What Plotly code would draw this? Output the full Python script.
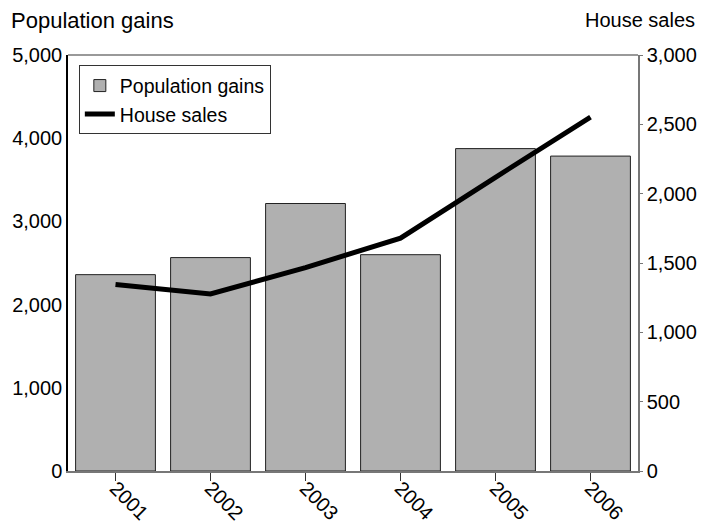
import plotly.graph_objects as go

years = ["2001", "2002", "2003", "2004", "2005", "2006"]
population_gains = [2360, 2565, 3215, 2600, 3875, 3785]
house_sales = [1345, 1277, 1467, 1679, 2118, 2552]

FONT = "Liberation Sans, Arial, sans-serif"

fig = go.Figure()
fig.add_trace(go.Bar(
    x=years, y=population_gains, name="Population gains",
    marker=dict(color="#b0b0b0", line=dict(color="#222222", width=1)),
    width=0.84,
))
fig.add_trace(go.Scatter(
    x=years, y=house_sales, name="House sales", yaxis="y2",
    mode="lines", line=dict(color="black", width=5),
))

fig.update_layout(
    width=702, height=526,
    margin=dict(l=68, r=64, t=55, b=55, autoexpand=False),
    paper_bgcolor="white", plot_bgcolor="white",
    font=dict(family=FONT, size=20, color="black"),
    showlegend=True,
    legend=dict(x=0.019, y=0.975, xanchor="left", yanchor="top",
                bordercolor="#333333", borderwidth=1, bgcolor="white",
                font=dict(size=19.5), tracegroupgap=0, itemwidth=30),
    xaxis=dict(type="category", range=[-0.5, 5.5], tickangle=45,
               ticks="outside", ticklen=8, tickcolor="#333333",
               showline=True, linecolor="#777777", linewidth=1.5,
               mirror=False, showgrid=False, tickfont=dict(size=20),
               ticklabelstandoff=-12, automargin=False),
    yaxis=dict(range=[0, 5000], tickvals=[0, 1000, 2000, 3000, 4000, 5000],
               tickformat=",d", showgrid=False, zeroline=False,
               showline=True, linecolor="black", linewidth=1.5,
               ticks="", tickfont=dict(size=20), automargin=False),
    yaxis2=dict(range=[0, 3000], tickvals=[0, 500, 1000, 1500, 2000, 2500, 3000],
                tickformat=",d", overlaying="y", side="right",
                showgrid=False, zeroline=False,
                showline=True, linecolor="#777777", linewidth=1.5,
                ticks="outside", ticklen=3, tickcolor="#777777",
                tickfont=dict(size=20), automargin=False),
    shapes=[dict(type="line", xref="paper", yref="paper", x0=0, x1=1, y0=1, y1=1,
                 line=dict(color="#777777", width=1.5))],
    annotations=[
        dict(text="Population gains", xref="paper", yref="paper", x=0, y=1.0,
             xanchor="left", yanchor="middle", xshift=-59, yshift=35,
             showarrow=False, font=dict(size=22)),
        dict(text="House sales", xref="paper", yref="paper", x=1, y=1.0,
             xanchor="right", yanchor="middle", xshift=59, yshift=35,
             showarrow=False, font=dict(size=20)),
    ],
)

fig.write_html(
    "out.html",
    config={"displayModeBar": False},
    post_script="document.body.style.margin='0';document.body.style.overflow='hidden';",
)
